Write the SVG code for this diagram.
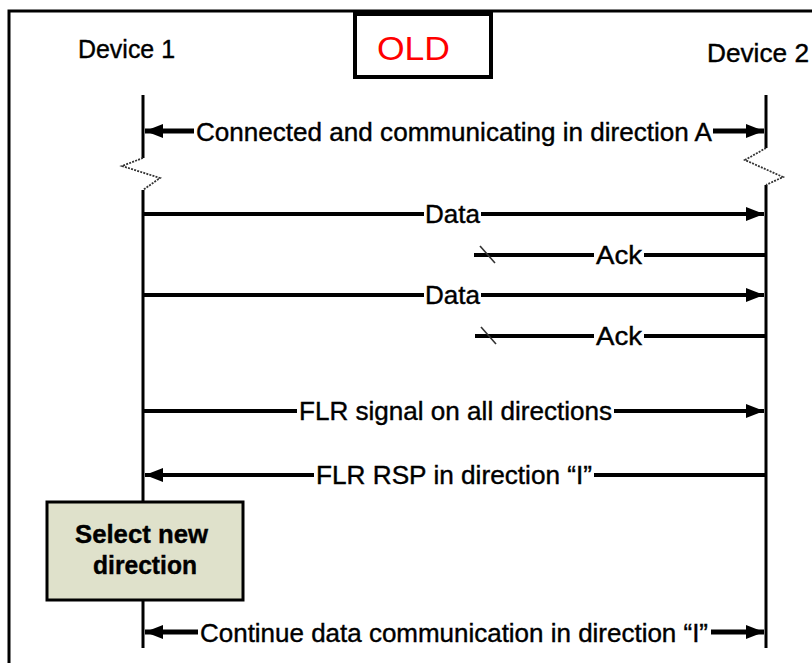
<svg xmlns="http://www.w3.org/2000/svg" width="812" height="663" viewBox="0 0 812 663">
  <defs>
    <style>
      .t { font-family: "Liberation Sans", Arial, sans-serif; font-size: 26px; fill: #000; stroke: #000; stroke-width: 0.4; }
      .life { stroke: #000; stroke-width: 3; fill: none; }
      .msg { stroke: #000; stroke-width: 4; fill: none; }
      .big { stroke: #000; stroke-width: 5; fill: none; }
      .zig { stroke: #333; stroke-width: 1.8; fill: none; stroke-dasharray: 2 1.2; }
    </style>
    <marker id="ah" markerUnits="userSpaceOnUse" markerWidth="20" markerHeight="14" refX="18" refY="7" orient="auto">
      <path d="M0,0 L18,7 L0,14 Z" fill="#000"/>
    </marker>
  </defs>
  <rect width="812" height="663" fill="#fff"/>

  <!-- outer frame -->
  <path d="M9,663 L9,11 L812,11" stroke="#000" stroke-width="3" fill="none"/>

  <g id="title">
    <rect x="355" y="14" width="136" height="63" fill="#fff" stroke="#000" stroke-width="4"/>
    <text x="377" y="60" font-family="Liberation Sans, Arial, sans-serif" font-size="33" fill="#ff0000" textLength="73" lengthAdjust="spacingAndGlyphs">OLD</text>
  </g>

  <g id="device1">
    <text class="t" x="78" y="58" textLength="97" lengthAdjust="spacingAndGlyphs">Device 1</text>
    <path class="life" d="M143,95 L143,158 M143,190 L143,502 M143,600 L143,648"/>
    <path class="zig" d="M143,158 L122,166 L160,178 L143,190"/>
  </g>

  <g id="device2">
    <text class="t" x="707" y="62" textLength="102" lengthAdjust="spacingAndGlyphs">Device 2</text>
    <path class="life" d="M766,95 L766,148 M766,185 L766,648"/>
    <path class="zig" d="M766,148 L745,160 L783,177 L766,185"/>
  </g>

  <g id="select-box">
    <rect x="47" y="502" width="196" height="98" fill="#dfe1cb" stroke="#000" stroke-width="3"/>
    <text class="t" x="75" y="543" font-weight="bold" textLength="133" lengthAdjust="spacingAndGlyphs">Select new</text>
    <text class="t" x="93" y="574" font-weight="bold" textLength="104" lengthAdjust="spacingAndGlyphs">direction</text>
  </g>

  <g id="connectors">
    <!-- Connected and communicating in direction A -->
    <path class="big" d="M194,131 L145,131" marker-end="url(#ah)"/>
    <path class="big" d="M713,131 L764,131" marker-end="url(#ah)"/>
    <text class="t" x="196" y="141" textLength="516" lengthAdjust="spacingAndGlyphs">Connected and communicating in direction A</text>

    <!-- Data 1 -->
    <path class="msg" d="M143,214 L424,214 M481,214 L764,214" marker-end="url(#ah)"/>
    <text class="t" x="425" y="223" textLength="55" lengthAdjust="spacingAndGlyphs">Data</text>

    <!-- Ack 1 -->
    <path class="msg" d="M766,255 L644,255 M594,255 L474,255"/>
    <path d="M480,246 L495,263" stroke="#333" stroke-width="1.6"/>
    <text class="t" x="596" y="264" textLength="46" lengthAdjust="spacingAndGlyphs">Ack</text>

    <!-- Data 2 -->
    <path class="msg" d="M143,295 L424,295 M481,295 L764,295" marker-end="url(#ah)"/>
    <text class="t" x="425" y="304" textLength="55" lengthAdjust="spacingAndGlyphs">Data</text>

    <!-- Ack 2 -->
    <path class="msg" d="M766,336 L644,336 M594,336 L475,336"/>
    <path d="M481,327 L496,344" stroke="#333" stroke-width="1.6"/>
    <text class="t" x="596" y="345" textLength="46" lengthAdjust="spacingAndGlyphs">Ack</text>

    <!-- FLR signal -->
    <path class="msg" d="M143,411 L297,411 M614,411 L764,411" marker-end="url(#ah)"/>
    <text class="t" x="299" y="420" textLength="313" lengthAdjust="spacingAndGlyphs">FLR signal on all directions</text>

    <!-- FLR RSP -->
    <path class="msg" d="M766,475 L594,475 M314,475 L145,475" marker-end="url(#ah)"/>
    <text class="t" x="316" y="484" textLength="276" lengthAdjust="spacingAndGlyphs">FLR RSP in direction “I”</text>

    <!-- Continue -->
    <path class="big" d="M198,632 L145,632" marker-end="url(#ah)"/>
    <path class="big" d="M711,632 L764,632" marker-end="url(#ah)"/>
    <text class="t" x="200" y="642" textLength="508" lengthAdjust="spacingAndGlyphs">Continue data communication in direction “I”</text>
  </g>
</svg>
